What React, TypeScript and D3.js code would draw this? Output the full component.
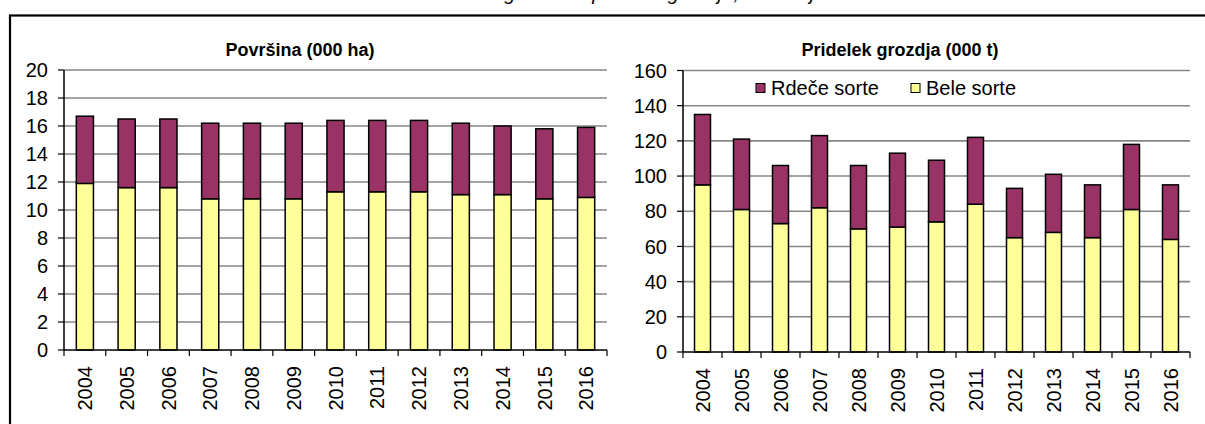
import React from "react";
import * as d3 from "d3";

const years = ["2004", "2005", "2006", "2007", "2008", "2009", "2010", "2011", "2012", "2013", "2014", "2015", "2016"];
const areaWhite = [11.9, 11.6, 11.6, 10.8, 10.8, 10.8, 11.3, 11.3, 11.3, 11.1, 11.1, 10.8, 10.9];
const areaRed = [4.8, 4.9, 4.9, 5.4, 5.4, 5.4, 5.1, 5.1, 5.1, 5.1, 4.9, 5.0, 5.0];
const yieldWhite = [95, 81, 73, 82, 70, 71, 74, 84, 65, 68, 65, 81, 64];
const yieldRed = [40, 40, 33, 41, 36, 42, 35, 38, 28, 33, 30, 37, 31];
const areaTicks = [0, 2, 4, 6, 8, 10, 12, 14, 16, 18, 20];
const yieldTicks = [0, 20, 40, 60, 80, 100, 120, 140, 160];
const seriesNames = ["Rdeče sorte", "Bele sorte"];
const titles = ["Površina (000 ha)", "Pridelek grozdja (000 t)"];
const mainTitle = "Površina vinogradov in pridelek grozdja, Slovenija";

const RED = "#993366";
const YELLOW = "#FFFF99";
const GRID = "#868686";
const FONT = "'Liberation Sans', Arial, sans-serif";

type PanelProps = {
  x0: number; x1: number; yBase: number; yTop: number;
  ticks: number[]; white: number[]; red: number[];
  title: string; titleX: number; legend?: boolean;
};

function Panel({ x0, x1, yBase, yTop, ticks, white, red, title, titleX, legend }: PanelProps) {
  const max = ticks[ticks.length - 1];
  const x = d3.scaleBand<string>().domain(years).range([x0, x1]).paddingInner(0.59).paddingOuter(0.295);
  const y = d3.scaleLinear().domain([0, max]).range([yBase, yTop]);
  const step = x.step();
  const bounds = d3.range(years.length + 1).map((i) => x0 + i * step);
  return (
    <g fontFamily={FONT}>
      <text x={titleX} y={56} textAnchor="middle" fontSize={18} fontWeight="bold">{title}</text>
      {ticks.filter((t) => t > 0).map((t) => (
        <line key={"g" + t} x1={x0} x2={x1} y1={y(t)} y2={y(t)} stroke={GRID} strokeWidth={1.6} />
      ))}
      {years.map((yr, i) => {
        const bx = x(yr)!;
        const w = x.bandwidth();
        return (
          <g key={yr}>
            <rect x={bx} y={y(white[i])} width={w} height={y(0) - y(white[i])} fill={YELLOW} stroke="#000" strokeWidth={1.5} />
            <rect x={bx} y={y(white[i] + red[i])} width={w} height={y(white[i]) - y(white[i] + red[i])} fill={RED} stroke="#000" strokeWidth={1.5} />
          </g>
        );
      })}
      <line x1={x0} x2={x0} y1={y(0)} y2={y(max)} stroke="#000" strokeWidth={1.5} />
      <line x1={x0} x2={x1} y1={y(0)} y2={y(0)} stroke="#000" strokeWidth={1.5} />
      {ticks.map((t) => (
        <g key={"t" + t}>
          <line x1={x0 - 6} x2={x0} y1={y(t)} y2={y(t)} stroke="#000" strokeWidth={1.2} />
          <text x={x0 - 16} y={y(t)} dy="0.36em" textAnchor="end" fontSize={20}>{t}</text>
        </g>
      ))}
      {bounds.map((bx, i) => (
        <line key={"b" + i} x1={bx} x2={bx} y1={y(0)} y2={y(0) + 6} stroke="#000" strokeWidth={1.2} />
      ))}
      {years.map((yr) => (
        <text key={"l" + yr} transform={`translate(${x(yr)! + x.bandwidth() / 2},${y(0) + 16}) rotate(-90)`}
          textAnchor="end" dy="0.36em" fontSize={20}>{yr}</text>
      ))}
      {legend && (
        <g>
          <rect x={756} y={83.5} width={9} height={9} fill={RED} stroke="#000" strokeWidth={1} />
          <text x={771} y={88} dy="0.36em" fontSize={20}>{seriesNames[0]}</text>
          <rect x={911} y={83.5} width={9} height={9} fill={YELLOW} stroke="#000" strokeWidth={1} />
          <text x={926} y={88} dy="0.36em" fontSize={20}>{seriesNames[1]}</text>
        </g>
      )}
    </g>
  );
}

export default function App() {
  return (
    <svg width={1205} height={424} style={{ position: "absolute", left: 0, top: 0, background: "#fff" }}>
      <rect x={0} y={0} width={1205} height={424} fill="#fff" />
      <text x={605} y={-0.5} textAnchor="middle" fontSize={20} fontStyle="italic" fontFamily={FONT}>{mainTitle}</text>
      <rect x={10} y={15.5} width={1300} height={500} fill="none" stroke="#000" strokeWidth={2.2} />
      <Panel x0={64} x1={607} yBase={350} yTop={70} ticks={areaTicks} white={areaWhite} red={areaRed}
        title={titles[0]} titleX={300} />
      <Panel x0={683} x1={1190} yBase={352} yTop={70.5} ticks={yieldTicks} white={yieldWhite} red={yieldRed}
        title={titles[1]} titleX={900} legend />
    </svg>
  );
}
